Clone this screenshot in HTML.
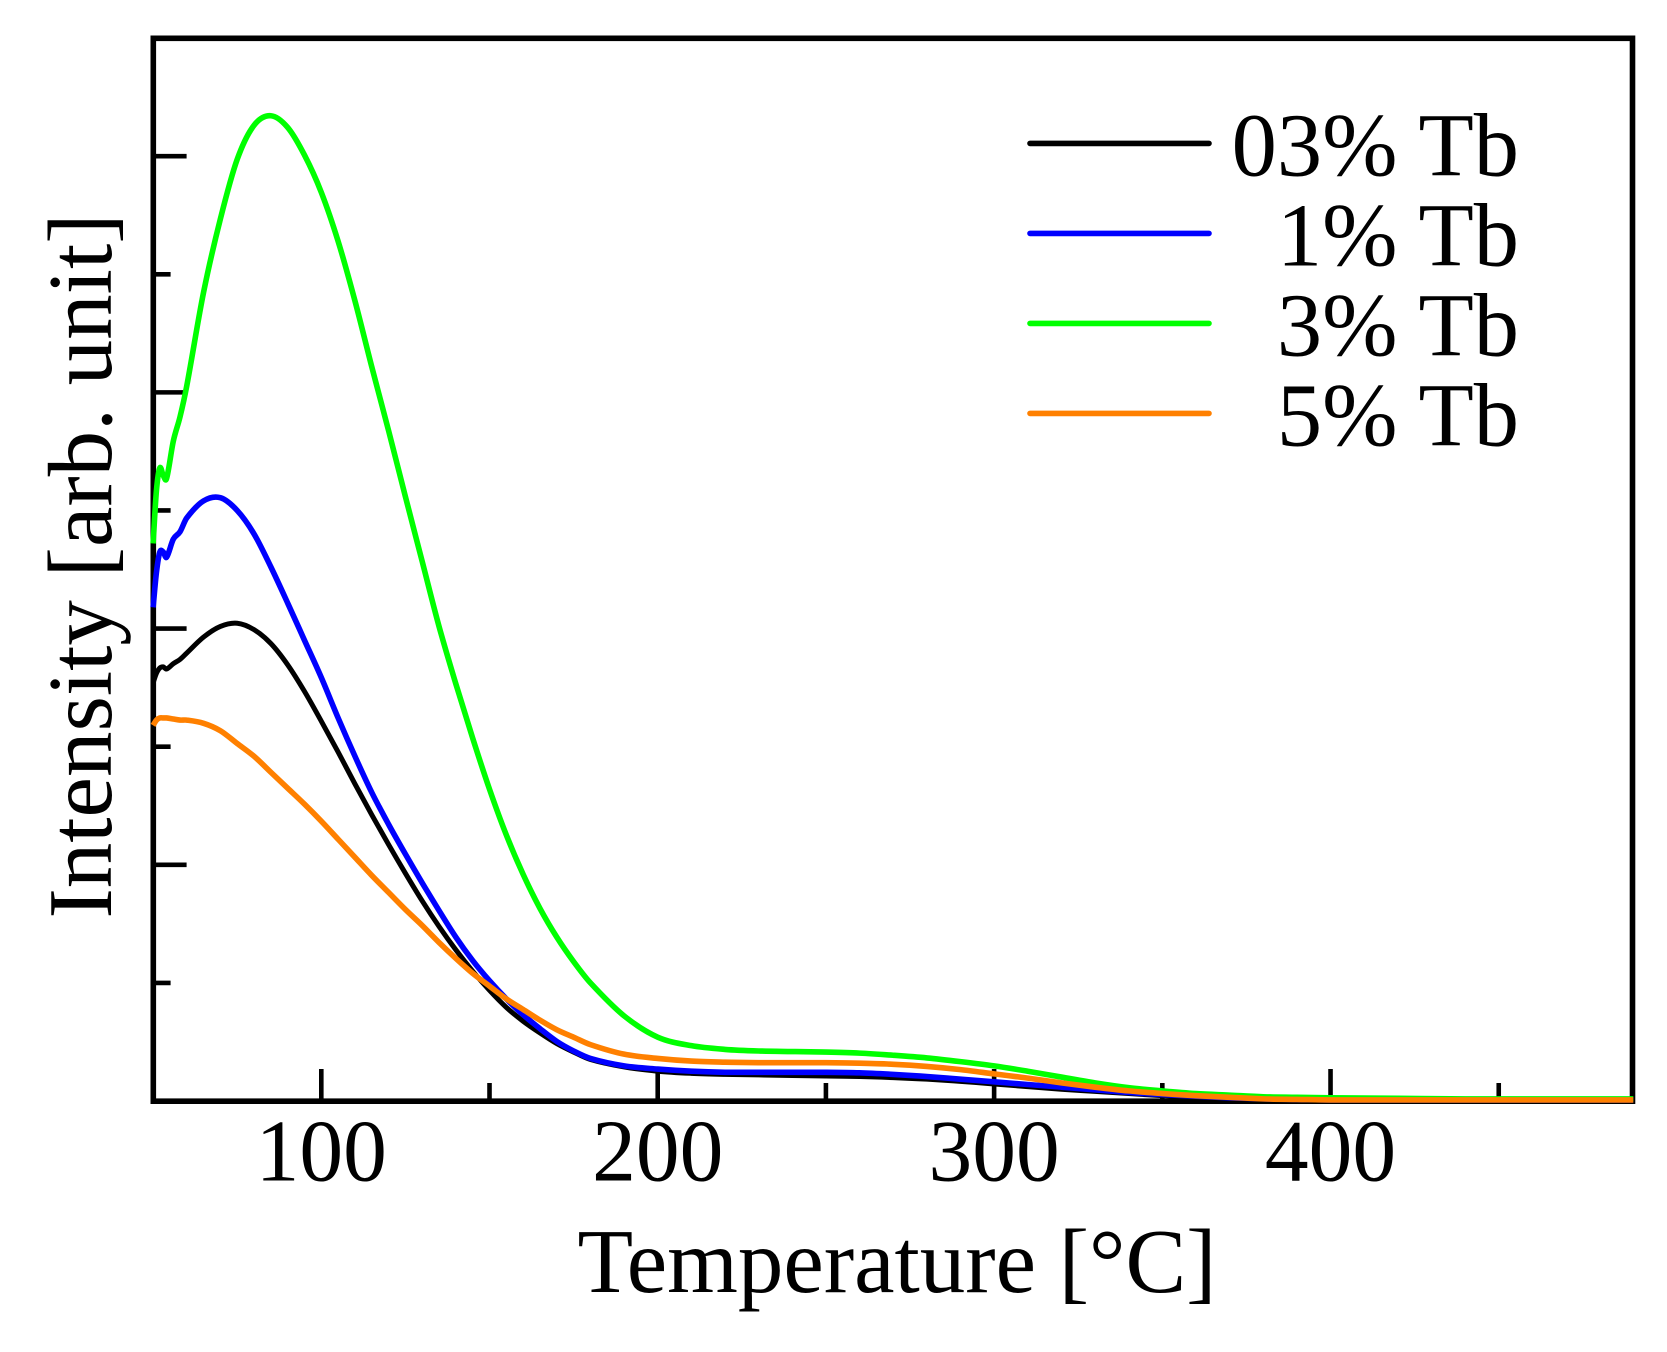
<!DOCTYPE html>
<html lang="en">
<head>
<meta charset="utf-8">
<title>Intensity vs Temperature</title>
<style>
  html, body { margin: 0; padding: 0; background: #fff; }
  svg { display: block; }
  text { font-family: "Liberation Serif", serif; fill: #000; }
</style>
</head>
<body>
<svg id="chart" xmlns="http://www.w3.org/2000/svg" width="1667" height="1352" viewBox="0 0 1667 1352">
  <rect x="0" y="0" width="1667" height="1352" fill="#fff"/>
  <g id="ticks"></g>
  <rect x="153.3" y="38.3" width="1479.2" height="1062.9" fill="none" stroke="#000" stroke-width="5.6"/>
  <g id="series"></g>
  <g id="tick-labels"></g>
  <text x="897" y="1292" font-size="91" text-anchor="middle">Temperature [°C]</text>
  <text x="0" y="0" font-size="91" text-anchor="middle" transform="translate(111 566) rotate(-90)">Intensity [arb. unit]</text>
  <g id="legend"></g>
</svg>
<script>
const temperatures = [50,51,52,53,54,56,58,60,65,70,75,80,85,90,95,100,105,110,115,120,125,130,135,140,145,150,155,160,165,170,175,180,190,200,210,220,230,240,250,260,270,280,290,300,310,320,330,340,350,360,370,380,390,400,420,440,460,490];
const tb03 = [393,402,407,408,406,411,415,421,436,446,449,443,430,410,385,357,328,298,269,241,214,188,164,142,122,104,88,75,64,54,46,39,32,28,26,25,24.5,24,23.5,23,22,20.5,18.5,16,13.5,11,9,7,5,3.5,2.5,1.5,1,1,1,1,1,1];
const tb1 = [464,497,516,516,511,528,535,548,564,567,555,533,502,468,433,398,360,324,290,260,232,205,179,154,132,113,96,81,68,56,47,40,33,30,28,27,27,27,27,26.5,25,23,20.5,18,15.5,13,10.5,8,6,4.5,3,2,1.5,1,1,1,1,1];
const tb3 = [524,574,595,588,585,620,643,672,760,829,885,917,926,915,889,854,808,752,690,630,568,507,446,392,341,293,250,213,181,154,131,111,80,60,52,48.5,47,46.5,46,45,43,40.5,37,33,28,22.5,17,12.5,9.5,7,5.5,4,3.5,3,2.5,2,2,2];
const tb5 = [353,358,360,360,360,359,358,358,355,348,336,324,309,294,279,263,246,229,212,196,180,165,149,134,120,108,96,86,76,67,60,53,44,40,37.5,36.5,36,36,36,35.5,34.5,32.5,29.5,25.5,21.5,17,13,9.5,7,5,3.5,2,1.5,1,1,1,1,1];
const seriesLabels = ["03% Tb","1% Tb","3% Tb","5% Tb"];
const seriesColors = ["#000000","#0000ff","#00ff00","#ff8000"];
const seriesValues = [tb03, tb1, tb3, tb5];
const xMajorTicks = [100,200,300,400];
const xMinorTicks = [150,250,350,450];
const yMajorTicks = [222,444,666,888];
const yMinorTicks = [111,333,555,777];

const NS = "http://www.w3.org/2000/svg";
const plotLeft = 153.1, plotRight = 1633.3, plotBottom = 1101;
const xMin = 50, xMax = 490, yPixelsPerUnit = 1.064;
function xScale(t) { return plotLeft + (t - xMin) / (xMax - xMin) * (plotRight - plotLeft); }
function yScale(v) { return plotBottom - v * yPixelsPerUnit; }

function makeLine(x1, y1, x2, y2, color, w) {
  const l = document.createElementNS(NS, "line");
  l.setAttribute("x1", x1); l.setAttribute("y1", y1);
  l.setAttribute("x2", x2); l.setAttribute("y2", y2);
  l.setAttribute("stroke", color); l.setAttribute("stroke-width", w);
  return l;
}

const ticksG = document.getElementById("ticks");
xMajorTicks.forEach(function (t) {
  const l = makeLine(xScale(t), plotBottom, xScale(t), plotBottom - 32, "#000", 4.6);
  
  
  ticksG.appendChild(l);
});
xMinorTicks.forEach(function (t) {
  const l = makeLine(xScale(t), plotBottom, xScale(t), plotBottom - 18, "#000", 4.6);
  
  
  ticksG.appendChild(l);
});
yMajorTicks.forEach(function (v) {
  const l = makeLine(plotLeft, yScale(v), plotLeft + 33.5, yScale(v), "#000", 4.6);
  
  
  ticksG.appendChild(l);
});
yMinorTicks.forEach(function (v) {
  const l = makeLine(plotLeft, yScale(v), plotLeft + 17.5, yScale(v), "#000", 4.6);
  
  
  ticksG.appendChild(l);
});

function smoothPath(xs, ys) {
  const pts = xs.map(function (t, i) { return [xScale(t), yScale(ys[i])]; });
  let d = "M" + pts[0][0].toFixed(2) + " " + pts[0][1].toFixed(2);
  for (let i = 0; i < pts.length - 1; i++) {
    const p0 = pts[Math.max(i - 1, 0)], p1 = pts[i], p2 = pts[i + 1], p3 = pts[Math.min(i + 2, pts.length - 1)];
    const dx = p2[0] - p1[0];
    const m1 = (p2[1] - p0[1]) / Math.max(p2[0] - p0[0], 0.01);
    const m2 = (p3[1] - p1[1]) / Math.max(p3[0] - p1[0], 0.01);
    const c1x = p1[0] + dx / 3, c1y = p1[1] + m1 * dx / 3;
    const c2x = p2[0] - dx / 3, c2y = p2[1] - m2 * dx / 3;
    d += "C" + c1x.toFixed(2) + " " + c1y.toFixed(2) + " " + c2x.toFixed(2) + " " + c2y.toFixed(2) + " " + p2[0].toFixed(2) + " " + p2[1].toFixed(2);
  }
  return d;
}

const seriesG = document.getElementById("series");
seriesValues.forEach(function (vals, i) {
  const p = document.createElementNS(NS, "path");
  p.setAttribute("d", smoothPath(temperatures, vals));
  p.setAttribute("fill", "none");
  p.setAttribute("stroke", seriesColors[i]);
  p.setAttribute("stroke-width", i === 0 ? 5 : 5.6);
  p.setAttribute("stroke-linejoin", "round");
  
  
  seriesG.appendChild(p);
});

const labelsG = document.getElementById("tick-labels");
xMajorTicks.forEach(function (t) {
  const tx = document.createElementNS(NS, "text");
  tx.setAttribute("x", xScale(t));
  tx.setAttribute("y", 1180.5);
  tx.setAttribute("font-size", 87.5);
  tx.setAttribute("text-anchor", "middle");
  tx.textContent = String(t);
  
  
  labelsG.appendChild(tx);
});

const legendG = document.getElementById("legend");
const legendLineLeft = 1030, legendLineRight = 1209, legendTextRight = 1519, legendFirstY = 143.4, legendStep = 90;
seriesLabels.forEach(function (name, i) {
  const y = legendFirstY + i * legendStep;
  const l = makeLine(legendLineLeft, y, legendLineRight, y, seriesColors[i], 5.6);
  l.setAttribute("stroke-linecap", "round");
  
  
  legendG.appendChild(l);
  const tx = document.createElementNS(NS, "text");
  tx.setAttribute("x", legendTextRight);
  tx.setAttribute("y", y + 32);
  tx.setAttribute("font-size", 90.5);
  tx.setAttribute("text-anchor", "end");
  tx.textContent = name;
  
  
  legendG.appendChild(tx);
});
</script>
</body>
</html>
